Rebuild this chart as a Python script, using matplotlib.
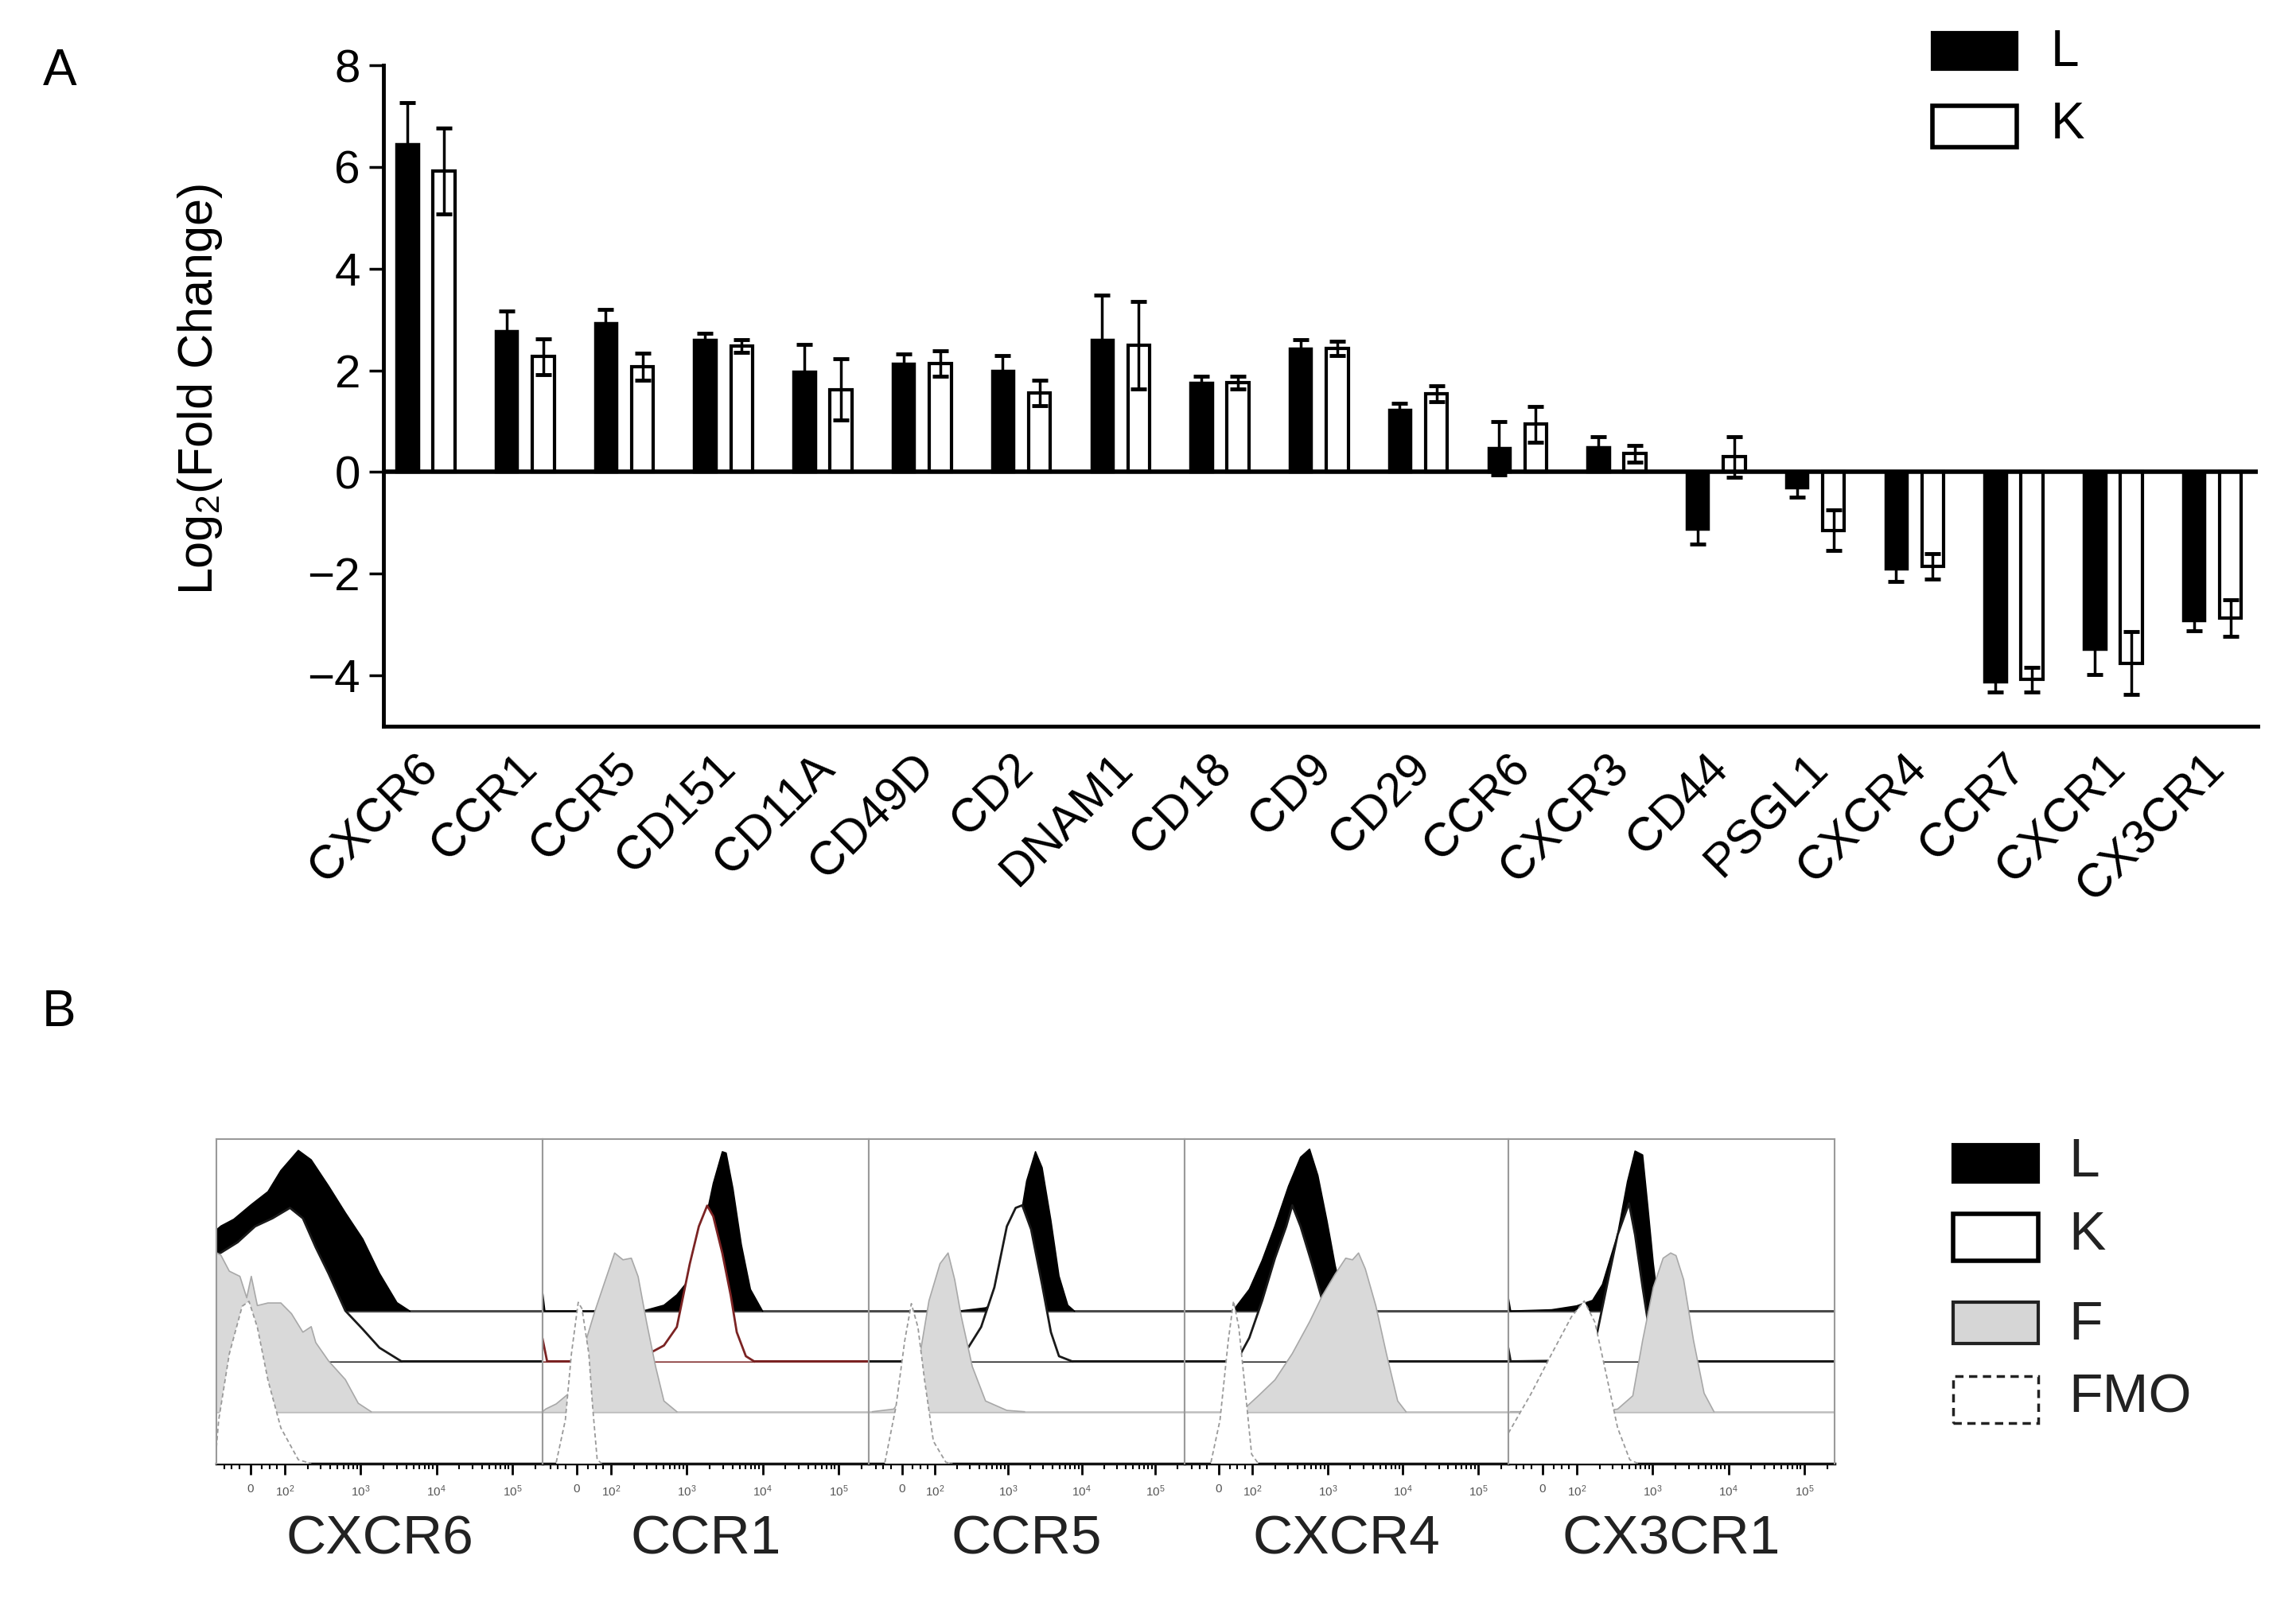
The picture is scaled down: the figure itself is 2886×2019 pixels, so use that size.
import numpy as np
import matplotlib
matplotlib.use("Agg")
import matplotlib.pyplot as plt
from matplotlib.patches import Rectangle

plt.rcParams['font.family'] = ['Liberation Sans', 'DejaVu Sans']
plt.rcParams['mathtext.fontset'] = 'custom'
plt.rcParams['mathtext.rm'] = 'Liberation Sans'
plt.rcParams['mathtext.default'] = 'regular'

# ---- panel A data: log2 fold change, mean and error ----
markers = ["CXCR6", "CCR1", "CCR5", "CD151", "CD11A", "CD49D", "CD2", "DNAM1",
           "CD18", "CD9", "CD29", "CCR6", "CXCR3", "CD44", "PSGL1", "CXCR4",
           "CCR7", "CXCR1", "CX3CR1"]
l_mean = [6.45, 2.78, 2.93, 2.60, 1.98, 2.13, 1.99, 2.60, 1.76, 2.43, 1.23, 0.47,
          0.49, -1.12, -0.30, -1.90, -4.12, -3.49, -2.92]
l_err = [0.82, 0.38, 0.26, 0.13, 0.53, 0.19, 0.30, 0.88, 0.12, 0.17, 0.12, 0.52,
         0.21, 0.30, 0.20, 0.25, 0.20, 0.50, 0.20]
k_mean = [5.92, 2.27, 2.07, 2.48, 1.62, 2.13, 1.56, 2.50, 1.76, 2.43, 1.54, 0.94,
          0.36, 0.30, -1.15, -1.85, -4.08, -3.76, -2.88]
k_err = [0.84, 0.35, 0.26, 0.13, 0.60, 0.25, 0.25, 0.86, 0.12, 0.14, 0.16, 0.35,
         0.17, 0.40, 0.40, 0.25, 0.24, 0.62, 0.36]

# ---- panel B data: histogram traces, (channel in decades, height above own baseline) ----
flow_names = ["CXCR6", "CCR1", "CCR5", "CXCR4", "CX3CR1"]
flow_ticks = [1.55, 2, 3, 4, 5]
flow_tick_labels = ["0", "$10^2$", "$10^3$", "$10^4$", "$10^5$"]

cxcr6_L = [(1.10, 0.25), (1.16, 0.262), (1.33, 0.283), (1.56, 0.328), (1.78, 0.368),
           (1.95, 0.433), (2.18, 0.495), (2.35, 0.466), (2.58, 0.385), (2.80, 0.303),
           (3.03, 0.222), (3.25, 0.116), (3.48, 0.026), (3.65, 0.0)]
cxcr6_K = [(1.10, 0.33), (1.16, 0.335), (1.38, 0.367), (1.61, 0.416), (1.84, 0.441),
           (2.07, 0.473), (2.24, 0.441), (2.41, 0.351), (2.58, 0.27), (2.80, 0.156),
           (3.03, 0.099), (3.25, 0.042), (3.54, 0.0)]
cxcr6_F = [(1.10, 0.49), (1.16, 0.482), (1.27, 0.433), (1.41, 0.417), (1.50, 0.351),
           (1.56, 0.417), (1.64, 0.327), (1.78, 0.335), (1.95, 0.335), (2.09, 0.302),
           (2.24, 0.245), (2.35, 0.262), (2.41, 0.213), (2.58, 0.156), (2.80, 0.099),
           (2.97, 0.026), (3.14, 0.0)]
cxcr6_FMO = [(1.10, 0.05), (1.13, 0.134), (1.27, 0.338), (1.44, 0.485), (1.53, 0.50),
             (1.64, 0.42), (1.78, 0.257), (1.95, 0.11), (2.18, 0.012), (2.35, 0.0)]

ccr1_L = [(1.10, 0.059), (1.13, 0.0), (2.42, 0.0), (2.70, 0.018), (2.87, 0.05),
          (3.04, 0.099), (3.21, 0.238), (3.35, 0.393), (3.47, 0.491), (3.52, 0.487),
          (3.61, 0.377), (3.72, 0.205), (3.84, 0.067), (4.00, 0.0)]
ccr1_K = [(1.10, 0.069), (1.16, 0.0), (2.30, 0.0), (2.47, 0.02), (2.70, 0.049),
          (2.87, 0.106), (3.04, 0.30), (3.16, 0.416), (3.27, 0.48), (3.35, 0.447),
          (3.47, 0.333), (3.58, 0.204), (3.66, 0.09), (3.78, 0.016), (3.89, 0.0)]
ccr1_F = [(1.10, 0.0), (1.14, 0.008), (1.28, 0.024), (1.45, 0.057), (1.62, 0.179),
          (1.79, 0.31), (1.93, 0.407), (2.05, 0.489), (2.16, 0.468), (2.27, 0.473),
          (2.36, 0.416), (2.47, 0.277), (2.59, 0.139), (2.70, 0.033), (2.87, 0.0)]
ccr1_FMO = [(1.28, 0.004), (1.40, 0.134), (1.48, 0.338), (1.57, 0.497), (1.62, 0.477),
            (1.71, 0.338), (1.76, 0.175), (1.82, 0.012), (1.88, 0.0)]

ccr5_L = [(2.33, 0.0), (2.69, 0.01), (2.92, 0.034), (3.10, 0.197), (3.25, 0.401),
          (3.37, 0.491), (3.46, 0.442), (3.58, 0.279), (3.69, 0.108), (3.81, 0.018),
          (3.90, 0.0)]
ccr5_K = [(2.04, 0.0), (2.45, 0.041), (2.63, 0.106), (2.81, 0.228), (2.98, 0.416),
          (3.10, 0.473), (3.19, 0.481), (3.31, 0.407), (3.46, 0.236), (3.58, 0.09),
          (3.69, 0.016), (3.87, 0.0)]
ccr5_F = [(1.15, 0.0), (1.44, 0.008), (1.74, 0.098), (1.92, 0.342), (2.07, 0.456),
          (2.18, 0.489), (2.27, 0.407), (2.36, 0.293), (2.51, 0.139), (2.69, 0.033),
          (2.98, 0.004), (3.22, 0.0)]
ccr5_FMO = [(1.32, 0.004), (1.47, 0.175), (1.59, 0.379), (1.68, 0.493), (1.77, 0.42),
            (1.86, 0.257), (1.98, 0.069), (2.15, 0.004), (2.24, 0.0)]

cxcr4_L = [(1.74, 0.0), (1.96, 0.067), (2.13, 0.156), (2.30, 0.262), (2.48, 0.385),
           (2.64, 0.474), (2.76, 0.499), (2.87, 0.418), (2.99, 0.279), (3.10, 0.14),
           (3.21, 0.034), (3.33, 0.0)]
cxcr4_K = [(1.79, 0.0), (1.96, 0.073), (2.13, 0.187), (2.30, 0.318), (2.45, 0.416),
           (2.53, 0.481), (2.64, 0.416), (2.79, 0.302), (2.93, 0.187), (3.10, 0.065),
           (3.27, 0.008), (3.44, 0.0)]
cxcr4_F = [(1.85, 0.0), (2.08, 0.049), (2.30, 0.098), (2.53, 0.179), (2.76, 0.277),
           (2.93, 0.358), (3.10, 0.424), (3.24, 0.473), (3.33, 0.468), (3.41, 0.489),
           (3.50, 0.44), (3.64, 0.326), (3.78, 0.179), (3.93, 0.033), (4.04, 0.0)]
cxcr4_FMO = [(1.45, 0.004), (1.57, 0.134), (1.68, 0.379), (1.75, 0.501), (1.82, 0.42),
             (1.91, 0.216), (1.99, 0.029), (2.08, 0.0)]

cx3cr1_L = [(1.10, 0.041), (1.13, 0.0), (1.67, 0.004), (2.00, 0.016), (2.21, 0.033),
            (2.34, 0.082), (2.54, 0.236), (2.67, 0.399), (2.77, 0.493), (2.87, 0.481),
            (2.94, 0.318), (3.01, 0.147), (3.07, 0.033), (3.14, 0.0)]
cx3cr1_K = [(1.10, 0.039), (1.13, 0.0), (1.74, 0.002), (2.07, 0.023), (2.27, 0.088),
            (2.40, 0.235), (2.54, 0.39), (2.69, 0.487), (2.77, 0.39), (2.87, 0.227),
            (2.94, 0.121), (3.01, 0.039), (3.11, 0.0)]
cx3cr1_F = [(1.13, 0.0), (2.27, 0.0), (2.54, 0.008), (2.74, 0.049), (2.87, 0.22),
            (3.01, 0.383), (3.14, 0.473), (3.24, 0.489), (3.31, 0.481), (3.41, 0.407),
            (3.54, 0.22), (3.68, 0.057), (3.81, 0.0)]
cx3cr1_FMO = [(1.10, 0.094), (1.40, 0.216), (1.67, 0.338), (1.93, 0.452), (2.10, 0.501),
              (2.24, 0.436), (2.37, 0.297), (2.54, 0.11), (2.70, 0.012), (2.81, 0.0)]

flow_traces = [
    (cxcr6_L, cxcr6_K, cxcr6_F, cxcr6_FMO),
    (ccr1_L, ccr1_K, ccr1_F, ccr1_FMO),
    (ccr5_L, ccr5_K, ccr5_F, ccr5_FMO),
    (cxcr4_L, cxcr4_K, cxcr4_F, cxcr4_FMO),
    (cx3cr1_L, cx3cr1_K, cx3cr1_F, cx3cr1_FMO),
]

# ---- layout helpers (pixel positions of the reference) ----
W, H = 2886, 2019


def fx(px):
    return px / W


def fy(py):
    return 1 - py / H


fig = plt.figure(figsize=(W / 100, H / 100), dpi=100)

# ================= Panel A =================
ax = fig.add_axes([fx(482), fy(913), fx(2838) - fx(482), fy(82) - fy(913)])
x = np.arange(len(markers))
off, bw = 0.185, 0.22
ax.bar(x - off, l_mean, bw, color='black', edgecolor='black', linewidth=2.5, zorder=2)
ax.bar(x + off, k_mean, bw, color='white', edgecolor='black', linewidth=3, zorder=2)
ax.errorbar(x - off, l_mean, yerr=l_err, fmt='none', ecolor='black', elinewidth=2.5,
            capsize=7, capthick=3.5, zorder=3)
ax.errorbar(x + off, k_mean, yerr=k_err, fmt='none', ecolor='black', elinewidth=2.5,
            capsize=7, capthick=3.5, zorder=3)
ax.axhline(0, color='black', lw=4, zorder=4)

ax.set_xlim(-0.425, 18.46)
ax.set_ylim(-5, 8)
ax.set_yticks(np.arange(-4, 9, 2))
ax.spines['top'].set_visible(False)
ax.spines['right'].set_visible(False)
for s in ('left', 'bottom'):
    ax.spines[s].set_linewidth(3.5)
ax.tick_params(axis='y', length=13, width=2.5, labelsize=42, pad=8)
ax.set_xticks(x - 0.1)
ax.set_xticklabels(markers, rotation=45, ha='right', va='top', rotation_mode='anchor',
                   fontsize=43)
ax.tick_params(axis='x', length=0, pad=18)
ax.set_ylabel('Log$_2$(Fold Change)', fontsize=44)
ax.yaxis.set_label_coords(-0.085, 0.51)

fig.text(fx(75), fy(90), 'A', fontsize=46, ha='center', va='center')

# legend A
fig.add_artist(Rectangle((fx(2429), fy(87)), fx(2535) - fx(2429), fy(41) - fy(87),
                         transform=fig.transFigure, fc='black', ec='black', lw=3))
fig.add_artist(Rectangle((fx(2429), fy(185)), fx(2535) - fx(2429), fy(133) - fy(185),
                         transform=fig.transFigure, fc='white', ec='black', lw=4))
fig.text(fx(2578), fy(66), 'L', fontsize=46, va='center')
fig.text(fx(2578), fy(157), 'K', fontsize=46, va='center')

# ================= Panel B =================
fig.text(fx(74), fy(1273), 'B', fontsize=46, ha='center', va='center')

edges = [272, 682, 1092, 1489, 1896, 2306]
base_L, base_K, base_F = 0.47, 0.315, 0.16
minor = [1.2, 1.3, 1.4, 1.7, 1.8, 1.9]
for n in (2, 3, 4):
    minor += [np.log10(k) + n for k in range(2, 10)]
minor += [np.log10(2) + 5]


def draw_trace(a, pts, base, face, edge, lw, z, ls='-'):
    xs = [p[0] for p in pts]
    hs = [base + p[1] for p in pts]
    a.fill_between(xs, base, hs, facecolor=face, edgecolor='none', zorder=z)
    a.plot(xs, hs, color=edge, lw=lw, ls=ls, zorder=z + 0.1)


for i, (name, traces) in enumerate(zip(flow_names, flow_traces)):
    L, K, F, FMO = traces
    a = fig.add_axes([fx(edges[i]), fy(1840), fx(edges[i + 1]) - fx(edges[i]),
                      fy(1432) - fy(1840)])
    a.set_xlim(1.1, 5.4)
    a.set_ylim(0, 1)
    k_col = '#7b2323' if name == 'CCR1' else '#1a1a1a'

    a.axhline(base_L, color='#4a4a4a', lw=2.2, zorder=1)
    draw_trace(a, L, base_L, 'black', 'black', 1.2, 1.05)
    a.axhline(base_K, color=k_col, lw=2.2, zorder=2)
    draw_trace(a, K, base_K, 'white', k_col, 2.0, 2.05)
    a.axhline(base_F, color='#bdbdbd', lw=1.8, zorder=3)
    draw_trace(a, F, base_F, '#d9d9d9', '#a8a8a8', 1.2, 3.05)
    draw_trace(a, FMO, 0, 'white', '#9a9a9a', 1.3, 4.05, ls=(0, (3, 2)))

    for s in ('top', 'left', 'right'):
        a.spines[s].set_color('#9a9a9a')
        a.spines[s].set_linewidth(1.5)
        a.spines[s].set_zorder(6)
    a.spines['bottom'].set_color('#111111')
    a.spines['bottom'].set_linewidth(2.5)
    a.set_yticks([])
    a.set_xticks(flow_ticks)
    a.set_xticklabels(flow_tick_labels)
    a.set_xticks(minor, minor=True)
    a.tick_params(axis='x', which='major', length=10, width=2, labelsize=11,
                  labelcolor='#555555', pad=8)
    a.tick_params(axis='x', which='minor', length=5, width=1.5)
    fig.text((fx(edges[i]) + fx(edges[i + 1])) / 2, fy(1935), name, fontsize=50,
             ha='center', va='center', color='#222222')

# legend B
lx0, lx1 = 2455, 2562
fig.add_artist(Rectangle((fx(lx0), fy(1486)), fx(lx1) - fx(lx0), fy(1439) - fy(1486),
                         transform=fig.transFigure, fc='black', ec='black', lw=3))
fig.add_artist(Rectangle((fx(lx0), fy(1585)), fx(lx1) - fx(lx0), fy(1526) - fy(1585),
                         transform=fig.transFigure, fc='white', ec='black', lw=4))
fig.add_artist(Rectangle((fx(lx0), fy(1689)), fx(lx1) - fx(lx0), fy(1637) - fy(1689),
                         transform=fig.transFigure, fc='#d6d6d6', ec='#222222', lw=3))
fig.add_artist(Rectangle((fx(lx0), fy(1789)), fx(lx1) - fx(lx0), fy(1730) - fy(1789),
                         transform=fig.transFigure, fc='white', ec='#222222', lw=2.5,
                         ls=(0, (3, 2))))
for lab, yy in (('L', 1461), ('K', 1553), ('F', 1666), ('FMO', 1757)):
    fig.text(fx(2600), fy(yy), lab, fontsize=50, va='center', color='#222222')

fig.savefig('out.png', dpi=100)
